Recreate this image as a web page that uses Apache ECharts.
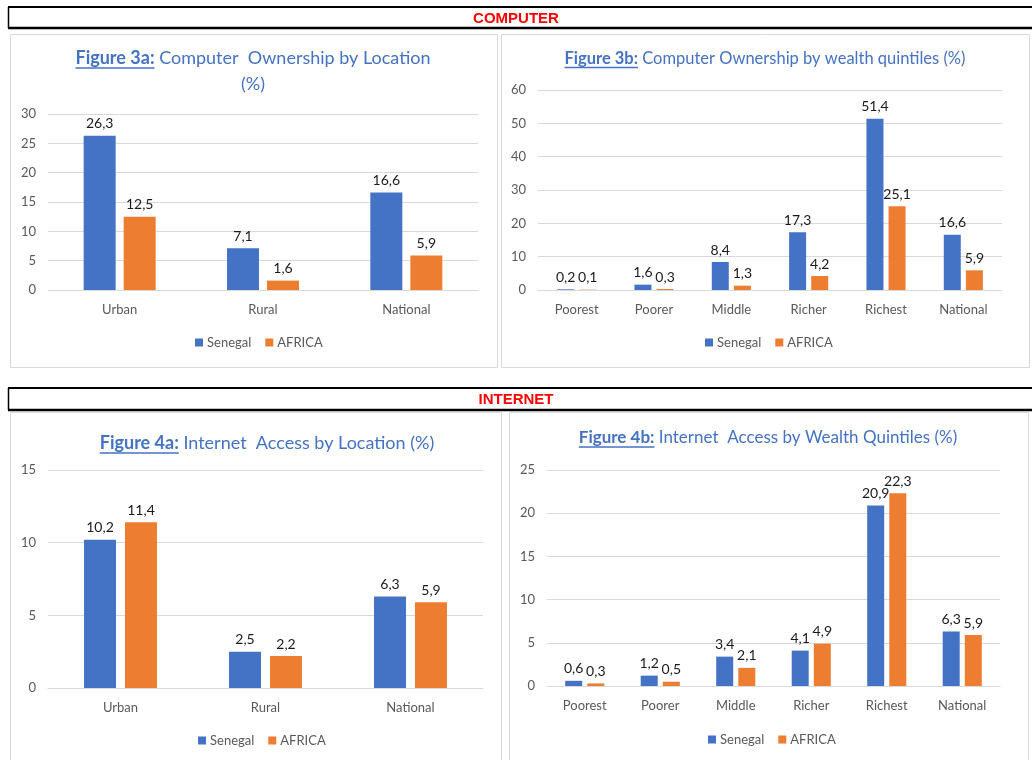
<!DOCTYPE html>
<html>
<head>
<meta charset="utf-8">
<script src="https://cdn.jsdelivr.net/npm/echarts@6/dist/echarts.min.js"></script>
<style>
  html, body { margin: 0; padding: 0; background: #fff; }
  #chart { width: 1032px; height: 760px; }
</style>
</head>
<body>
<div id="chart"></div>
<script>
  // data
  var locations = ['Urban', 'Rural', 'National'];
  var quintiles = ['Poorest', 'Poorer', 'Middle', 'Richer', 'Richest', 'National'];

  var comp_loc_senegal = [26.3, 7.1, 16.6];
  var comp_loc_africa = [12.5, 1.6, 5.9];
  var comp_q_senegal = [0.2, 1.6, 8.4, 17.3, 51.4, 16.6];
  var comp_q_africa = [0.1, 0.3, 1.3, 4.2, 25.1, 5.9];

  var net_loc_senegal = [10.2, 2.5, 6.3];
  var net_loc_africa = [11.4, 2.2, 5.9];
  var net_q_senegal = [0.6, 1.2, 3.4, 4.1, 20.9, 6.3];
  var net_q_africa = [0.3, 0.5, 2.1, 4.9, 22.3, 5.9];

  var blue = '#4472C4', orange = '#ED7D31';
  var FONT = 'Lato, "Open Sans", sans-serif';
  var titleColor = '#4472C4';

  var chart = echarts.init(document.getElementById('chart'));

  // measure text so the underline of "Figure Xx:" sits under that part only
  var ctx = document.createElement('canvas').getContext('2d');
  function textW(str, size, weight) {
    ctx.font = (weight || 'normal') + ' ' + size + 'px ' + FONT;
    return ctx.measureText(str).width;
  }

  // builds a centered title with the underlined bold prefix
  function makeTitle(cx, y, bold, rest, size, line2) {
    var wb = textW(bold, size, 'bold');
    var wr = textW(rest, size, 'normal');
    var x0 = cx - (wb + wr) / 2;
    var els = [
      { type: 'text', left: x0, top: y, style: { text: bold, font: 'bold ' + size + 'px ' + FONT, fill: titleColor } },
      { type: 'line', shape: { x1: x0, y1: y + size + 1, x2: x0 + wb, y2: y + size + 1 }, style: { stroke: titleColor, lineWidth: 1.5 } },
      { type: 'text', left: x0 + wb, top: y, style: { text: rest, font: size + 'px ' + FONT, fill: titleColor } }
    ];
    if (line2) {
      els.push({ type: 'text', left: cx - textW(line2, size) / 2, top: y + size + 8,
        style: { text: line2, font: size + 'px ' + FONT, fill: titleColor } });
    }
    return els;
  }

  function headerBar(y, h, label) {
    return [
      { type: 'line', shape: { x1: 8, y1: y, x2: 1032, y2: y }, style: { stroke: '#000', lineWidth: 2 } },
      { type: 'line', shape: { x1: 8, y1: y + h, x2: 1032, y2: y + h }, style: { stroke: '#000', lineWidth: 2.5 } },
      { type: 'line', shape: { x1: 8.5, y1: y, x2: 8.5, y2: y + h }, style: { stroke: '#000', lineWidth: 1.5 } },
      { type: 'text', left: 'center', top: y + 4, style: { text: label, font: 'bold 15px "Liberation Sans", Arial, sans-serif', fill: '#FF0000' } }
    ];
  }

  function panel(x, y, w, h) {
    return { type: 'rect', shape: { x: x + 0.5, y: y + 0.5, width: w, height: h }, style: { fill: '#fff', stroke: '#d9d9d9', lineWidth: 1 }, z: -1 };
  }

  var graphics = [
    panel(10, 34, 487, 333),
    panel(501, 34, 528, 333),
    panel(10, 412, 491, 360),
    panel(509, 412, 519, 360)
  ]
    .concat(headerBar(7, 21, 'COMPUTER'))
    .concat(headerBar(388, 22, 'INTERNET'))
    .concat(makeTitle(253, 49, 'Figure 3a:', ' Computer  Ownership by Location', 18, '(%)'))
    .concat(makeTitle(765, 50, 'Figure 3b:', ' Computer Ownership by wealth quintiles (%)', 16.5))
    .concat(makeTitle(267, 434, 'Figure 4a:', ' Internet  Access by Location (%)', 18))
    .concat(makeTitle(768, 429, 'Figure 4b:', ' Internet  Access by Wealth Quintiles (%)', 17));

  var grids = [
    { left: 48, top: 114, width: 430, height: 176 },
    { left: 538, top: 90, width: 464, height: 200 },
    { left: 48, top: 470, width: 435, height: 218 },
    { left: 547, top: 470, width: 453, height: 216 }
  ];

  var axisLabel = { color: '#595959', fontSize: 13, fontFamily: FONT };

  function xAx(i, cats) {
    return {
      type: 'category', gridIndex: i, data: cats,
      axisLine: { lineStyle: { color: '#d9d9d9' } },
      axisTick: { show: false },
      axisLabel: Object.assign({ margin: 13 }, axisLabel)
    };
  }
  function yAx(i, max, step) {
    return {
      type: 'value', gridIndex: i, min: 0, max: max, interval: step,
      axisLine: { show: false }, axisTick: { show: false },
      splitLine: { lineStyle: { color: '#d9d9d9' } },
      axisLabel: Object.assign({ margin: 12 }, axisLabel)
    };
  }

  function bars(i, name, data, color, width, gap) {
    return {
      type: 'bar', name: name, xAxisIndex: i, yAxisIndex: i, data: data,
      barWidth: width, barGap: gap,
      itemStyle: { color: color },
      label: {
        show: true, position: 'top', distance: 5,
        color: '#1a1a1a', fontSize: 14, fontFamily: FONT,
        formatter: function (p) { return String(p.value).replace('.', ','); }
      }
    };
  }

  function legend(left, top) {
    return {
      left: left, top: top, data: ['Senegal', 'AFRICA'],
      icon: 'rect', itemWidth: 8, itemHeight: 8, itemGap: 14,
      textStyle: { color: '#595959', fontSize: 13, fontFamily: FONT, padding: [0, 0, 0, -1] }
    };
  }

  var option = {
    animation: false,
    graphic: graphics,
    grid: grids,
    xAxis: [xAx(0, locations), xAx(1, quintiles), xAx(2, locations), xAx(3, quintiles)],
    yAxis: [yAx(0, 30, 5), yAx(1, 60, 10), yAx(2, 15, 5), yAx(3, 25, 5)],
    legend: [legend(190, 331), legend(700, 331), legend(193, 729), legend(703, 728)],
    series: [
      bars(0, 'Senegal', comp_loc_senegal, blue, 32, '25%'),
      bars(0, 'AFRICA', comp_loc_africa, orange, 32, '25%'),
      bars(1, 'Senegal', comp_q_senegal, blue, 17, '30%'),
      bars(1, 'AFRICA', comp_q_africa, orange, 17, '30%'),
      bars(2, 'Senegal', net_loc_senegal, blue, 32, '28%'),
      bars(2, 'AFRICA', net_loc_africa, orange, 32, '28%'),
      bars(3, 'Senegal', net_q_senegal, blue, 17, '30%'),
      bars(3, 'AFRICA', net_q_africa, orange, 17, '30%')
    ]
  };

  chart.setOption(option);
</script>
</body>
</html>
